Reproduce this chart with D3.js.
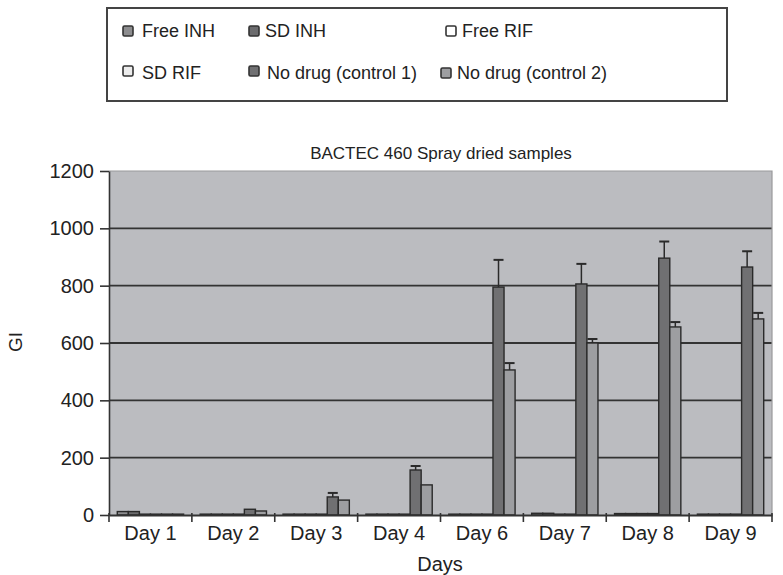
<!DOCTYPE html>
<html>
<head>
<meta charset="utf-8">
<script src="https://cdn.jsdelivr.net/npm/d3@7"></script>
<style>
  body { margin: 0; background: #fff; }
  svg text { font-family: "Liberation Sans", Arimo, Arial, Helvetica, Roboto, sans-serif; }
</style>
</head>
<body>
<div id="chart"></div>
<script>
const days = ["Day 1", "Day 2", "Day 3", "Day 4", "Day 6", "Day 7", "Day 8", "Day 9"];
const seriesNames = ["Free INH", "SD INH", "Free RIF", "SD RIF", "No drug (control 1)", "No drug (control 2)"];
const freeInh = [12, 3, 3, 3, 3, 6, 5, 3];
const sdInh = [12, 3, 3, 3, 3, 6, 5, 3];
const freeRif = [3, 3, 3, 3, 3, 3, 5, 3];
const sdRif = [3, 3, 3, 3, 3, 3, 5, 3];
const control1 = [3, 20, 63, 157, 795, 806, 896, 865];
const control2 = [3, 14, 52, 105, 506, 600, 656, 684];
const control1Err = [0, 0, 14, 14, 95, 70, 58, 55];
const control2Err = [0, 0, 0, 0, 24, 14, 17, 21];
const yTicks = [0, 200, 400, 600, 800, 1000, 1200];

const colors = ["#8d8d8f", "#6c6c6e", "#ffffff", "#ececec", "#707072", "#9d9ea1"];
const values = [freeInh, sdInh, freeRif, sdRif, control1, control2];
const errors = [null, null, null, null, control1Err, control2Err];

const width = 783, height = 575;
const margin = { left: 109, right: 11, top: 171, bottom: 60 };

const svg = d3.select("#chart").append("svg")
  .attr("width", width)
  .attr("height", height);

// legend box
svg.append("rect")
  .attr("x", 107).attr("y", 8)
  .attr("width", 620).attr("height", 93)
  .attr("fill", "#fff").attr("stroke", "#444").attr("stroke-width", 2);

// marker x, marker y, text x, text baseline
const legendPos = [
  [128, 31, 142, 37], [254, 31, 265, 37], [451, 31, 462, 37],
  [128, 71, 142, 79], [254, 71, 267, 79], [446, 73, 457, 79]
];
const legend = svg.selectAll(".leg").data(seriesNames).enter().append("g");
legend.append("rect")
  .attr("x", (d, i) => legendPos[i][0] - 5).attr("y", (d, i) => legendPos[i][1] - 5)
  .attr("width", 10).attr("height", 10)
  .attr("rx", 1.5)
  .attr("fill", (d, i) => colors[i])
  .attr("stroke", "#333").attr("stroke-width", 1.6);
legend.append("text")
  .attr("x", (d, i) => legendPos[i][2]).attr("y", (d, i) => legendPos[i][3])
  .attr("font-size", 18).attr("fill", "#222")
  .text((d) => d);

const x = d3.scaleBand().domain(days)
  .range([margin.left, width - margin.right]);
const x1 = d3.scaleBand().domain(d3.range(6))
  .range([0, x.bandwidth()]).paddingOuter(0.75).paddingInner(0);
const y = d3.scaleLinear().domain([0, 1200]).range([515, margin.top]);

// plot background
svg.append("rect")
  .attr("x", margin.left).attr("y", y(1200))
  .attr("width", width - margin.right - margin.left)
  .attr("height", y(0) - y(1200))
  .attr("fill", "#bbbcc0");

// gridlines
svg.append("g").selectAll("line").data(yTicks.filter((t) => t > 0 && t < 1200)).enter()
  .append("line")
  .attr("x1", margin.left).attr("x2", width - margin.right)
  .attr("y1", (d) => y(d)).attr("y2", (d) => y(d))
  .attr("stroke", "#333").attr("stroke-width", 1.8);

// right / top border
svg.append("path")
  .attr("d", `M${margin.left},${y(1200)}H${width - margin.right}V${y(0)}`)
  .attr("fill", "none").attr("stroke", "#9a9a9c").attr("stroke-width", 1.2);

// bars
const groups = svg.append("g").selectAll("g").data(days).enter().append("g")
  .attr("transform", (d) => `translate(${x(d)},0)`);

groups.each(function (day, di) {
  const g = d3.select(this);
  values.forEach((vals, si) => {
    const v = vals[di];
    const bx = x1(si);
    const err = errors[si] ? errors[si][di] : 0;
    if (err > 0) {
      const cx = bx + x1.bandwidth() / 2;
      g.append("line")
        .attr("x1", cx).attr("x2", cx)
        .attr("y1", y(v)).attr("y2", y(v + err))
        .attr("stroke", "#2a2a2a").attr("stroke-width", 1.5);
      g.append("line")
        .attr("x1", cx - 5).attr("x2", cx + 5)
        .attr("y1", y(v + err)).attr("y2", y(v + err))
        .attr("stroke", "#2a2a2a").attr("stroke-width", 2);
    }
    g.append("rect")
      .attr("x", bx).attr("width", x1.bandwidth())
      .attr("y", y(v)).attr("height", y(0) - y(v))
      .attr("fill", colors[si])
      .attr("stroke", "#2a2a2a").attr("stroke-width", 1.4);
  });
});

// y axis
const yAxis = svg.append("g")
  .attr("transform", `translate(${margin.left},0)`)
  .call(d3.axisLeft(y).tickValues(yTicks).tickFormat(d3.format("d"))
    .tickSize(9).tickPadding(6).tickSizeOuter(0));
yAxis.attr("font-family", null).attr("font-size", null);
yAxis.selectAll("text").attr("font-size", 20).attr("fill", "#222");
yAxis.selectAll("line").attr("stroke", "#333").attr("stroke-width", 1.6);
yAxis.select(".domain").attr("stroke", "#333").attr("stroke-width", 1.6);

// x axis
const xAxis = svg.append("g")
  .attr("transform", `translate(0,${y(0)})`)
  .call(d3.axisBottom(x).tickSize(0).tickPadding(11).tickSizeOuter(0));
xAxis.attr("font-family", null).attr("font-size", null);
xAxis.selectAll("text").attr("font-size", 20).attr("fill", "#222");
xAxis.select(".domain").attr("stroke", "#333").attr("stroke-width", 1.8);
xAxis.append("g").selectAll("line")
  .data(d3.range(days.length + 1)).enter().append("line")
  .attr("x1", (i) => margin.left + i * x.step())
  .attr("x2", (i) => margin.left + i * x.step())
  .attr("y1", -2).attr("y2", 7)
  .attr("stroke", "#333").attr("stroke-width", 1.6);

// titles
svg.append("text")
  .attr("x", 441).attr("y", 159)
  .attr("text-anchor", "middle").attr("font-size", 17).attr("fill", "#222")
  .text("BACTEC 460 Spray dried samples");
svg.append("text")
  .attr("x", 440).attr("y", 571)
  .attr("text-anchor", "middle").attr("font-size", 20).attr("fill", "#222")
  .text("Days");
svg.append("text")
  .attr("transform", "translate(22,342) rotate(-90)")
  .attr("text-anchor", "middle").attr("font-size", 19).attr("fill", "#222")
  .text("GI");
</script>
</body>
</html>
